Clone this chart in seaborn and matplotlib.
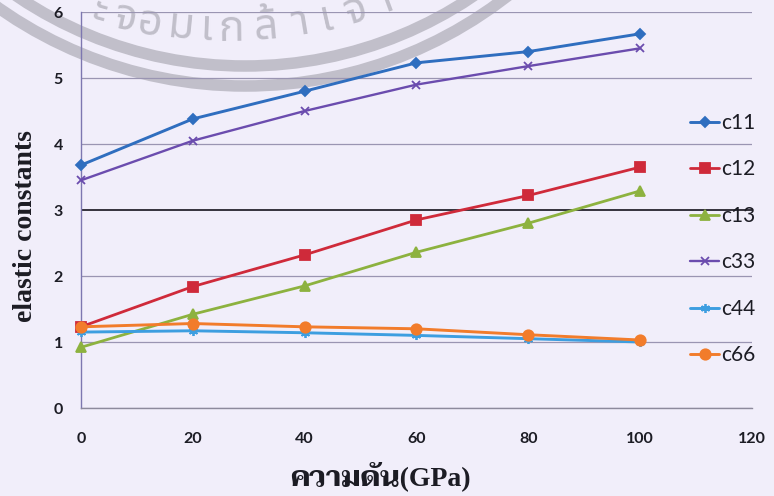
import numpy as np
import pandas as pd
import matplotlib
matplotlib.use("Agg")
import matplotlib.pyplot as plt
import seaborn as sns
from matplotlib.patches import Circle

# Elastic constants versus pressure
pressure = [0, 20, 40, 60, 80, 100]
c11 = [3.68, 4.38, 4.80, 5.23, 5.40, 5.67]
c12 = [1.23, 1.84, 2.32, 2.85, 3.22, 3.65]
c13 = [0.92, 1.42, 1.85, 2.36, 2.80, 3.29]
c33 = [3.45, 4.05, 4.50, 4.90, 5.18, 5.45]
c44 = [1.15, 1.17, 1.14, 1.10, 1.05, 1.00]
c66 = [1.23, 1.28, 1.23, 1.20, 1.11, 1.03]
series_names = ["c11", "c12", "c13", "c33", "c44", "c66"]
x_ticks = [0, 20, 40, 60, 80, 100, 120]
y_ticks = [0, 1, 2, 3, 4, 5, 6]
x_title = "ความดัน(GPa)"
y_title = "elastic constants"

df = pd.DataFrame({"pressure": pressure, "c11": c11, "c12": c12, "c13": c13,
                   "c33": c33, "c44": c44, "c66": c66})
long = df.melt(id_vars="pressure", var_name="constant", value_name="value")

sns.set_style("white")
plt.rcParams["font.family"] = ["Lato", "DejaVu Sans"]

BG = "#f1eefa"
styles = {
    "c11": dict(color="#2f6ebf", marker="D", ms=5.5, lw=2.1),
    "c12": dict(color="#cf2a3a", marker="s", ms=7.0, lw=2.0),
    "c13": dict(color="#8db23f", marker="^", ms=7.5, lw=2.0),
    "c33": dict(color="#6b4cae", marker="x", ms=5.5, lw=1.7),
    "c44": dict(color="#3d9ee0", marker=(6, 2, 0), ms=6.5, lw=2.1),
    "c66": dict(color="#f27c2b", marker="o", ms=7.5, lw=2.1),
}

fig = plt.figure(figsize=(7.74, 4.96), dpi=100, facecolor=BG)

# watermark seal behind the chart, drawn in pixel coordinates
bg = fig.add_axes([0, 0, 1, 1], zorder=0)
bg.set_xlim(0, 774)
bg.set_ylim(496, 0)
bg.axis("off")
seal_gray = "#c1bfca"
for r in (408, 428):
    bg.add_patch(Circle((245, -342), r, fill=False, lw=8.3, ec=seal_gray))

# seal lettering set on its own curve
seal_text = ["ะ", "จ", "อ", "ม", "เ", "ก", "ล้", "า", "เ", "จ้", "า"]
seal_x = [97, 122, 148, 179, 206, 231, 267, 302, 329, 358, 388]
text_cx, text_cy, r_base = 225, -431, 472
for ch, x in zip(seal_text, seal_x):
    th = np.arcsin((x - text_cx) / r_base)
    px = text_cx + r_base * np.sin(th)
    py = text_cy + r_base * np.cos(th)
    bg.text(px, py, ch, rotation=np.degrees(th), rotation_mode="anchor",
            ha="center", va="baseline", fontsize=31, color=seal_gray,
            fontweight="medium",
            family=["Noto Sans Thai", "Sarabun", "Anuphan", "Athiti"])

ax = fig.add_axes([81 / 774, 88 / 496, 671 / 774, 396 / 496], zorder=1)
ax.patch.set_visible(False)

for name in series_names:
    st = styles[name]
    sub = long[long["constant"] == name]
    sns.lineplot(data=sub, x="pressure", y="value", ax=ax, label=name,
                 color=st["color"], lw=st["lw"], marker=st["marker"],
                 markersize=st["ms"], markeredgecolor=st["color"],
                 markerfacecolor=st["color"], markeredgewidth=1.3,
                 clip_on=False, zorder=3)

ax.set_xlim(0, 120)
ax.set_ylim(0, 6)
ax.set_xticks(x_ticks)
ax.set_yticks(y_ticks)
ax.set_xticklabels([str(v) for v in x_ticks])
ax.set_yticklabels([str(v) for v in y_ticks])

ax.grid(axis="y", color="#9a95b2", lw=0.9)
ax.grid(axis="x", visible=False)
for val, tick in zip(ax.get_yticks(), ax.yaxis.get_major_ticks()):
    if val == 3:
        tick.gridline.set_color("#26242e")
        tick.gridline.set_linewidth(1.3)

for side in ("top", "right"):
    ax.spines[side].set_visible(False)
ax.spines["left"].set_color("#7d77b0")
ax.spines["left"].set_linewidth(1.0)
ax.spines["bottom"].set_color("#8d8a9c")
ax.spines["bottom"].set_linewidth(1.0)

ax.tick_params(axis="y", length=4, width=0.8, color="#7d77b0", pad=9,
               labelsize=11.5, labelcolor="#1c1c24")
ax.tick_params(axis="x", length=4, width=0.8, color="#8d8a9c", pad=13,
               labelsize=11.5, labelcolor="#1c1c24")
for lab in ax.get_xticklabels() + ax.get_yticklabels():
    lab.set_fontweight("bold")

ax.set_ylabel(y_title, family=["Liberation Serif", "DejaVu Serif"],
              fontweight="bold", fontsize=20, color="#1c1c24", va="center")
ax.yaxis.set_label_coords(-0.082, 0.46)
ax.set_xlabel(x_title, family=["Liberation Serif", "Taviraj", "Trirong",
                               "Noto Serif Thai", "Sarabun", "Noto Sans Thai"],
              fontweight="bold", fontsize=20, color="#1c1c24", va="center")
ax.xaxis.set_label_coords(0.446, -0.172)

leg = ax.legend(loc="upper left", bbox_to_anchor=(690 / 774, 1 - 113 / 496),
                bbox_transform=fig.transFigure, frameon=False, fontsize=15,
                borderpad=0, borderaxespad=0, handlelength=1.4,
                handletextpad=0.1, labelspacing=1.27)
for t in leg.get_texts():
    t.set_color("#1c1c24")

fig.savefig("out.png", dpi=100, facecolor=BG)
